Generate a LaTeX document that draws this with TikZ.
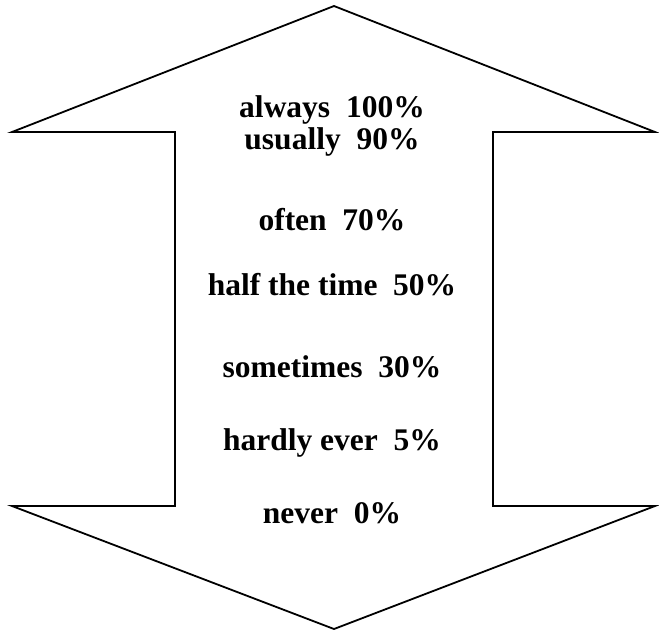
\documentclass[tikz,border=0pt]{standalone}
\usepackage{fontspec}
\setmainfont{Liberation Serif}
\usepackage{tikz}

\begin{document}
\begin{tikzpicture}[x=1pt, y=-1pt,
    freq/.style={font=\fontsize{31.5}{36}\selectfont\bfseries, anchor=base, inner sep=0pt}]
    \useasboundingbox (0,0) rectangle (659,630);

    % Double-headed arrow outline
    \draw[line width=1.8pt, line join=miter]
        (334,6) -- (655,132) -- (493,132) -- (493,506) -- (655,506)
        -- (334,629) -- (12,506) -- (175,506) -- (175,132) -- (12,132) -- cycle;

    % Frequency labels
    \node[freq] (always)    at (332,117) {always\ \ 100\%};
    \node[freq] (usually)   at (332,149) {usually\ \ 90\%};
    \node[freq] (often)     at (332,230) {often\ \ 70\%};
    \node[freq] (half)      at (332,295) {half the time\ \ 50\%};
    \node[freq] (sometimes) at (332,377) {sometimes\ \ 30\%};
    \node[freq] (hardly)    at (332,450) {hardly ever\ \ 5\%};
    \node[freq] (never)     at (332,523) {never\ \ 0\%};
\end{tikzpicture}
\end{document}
